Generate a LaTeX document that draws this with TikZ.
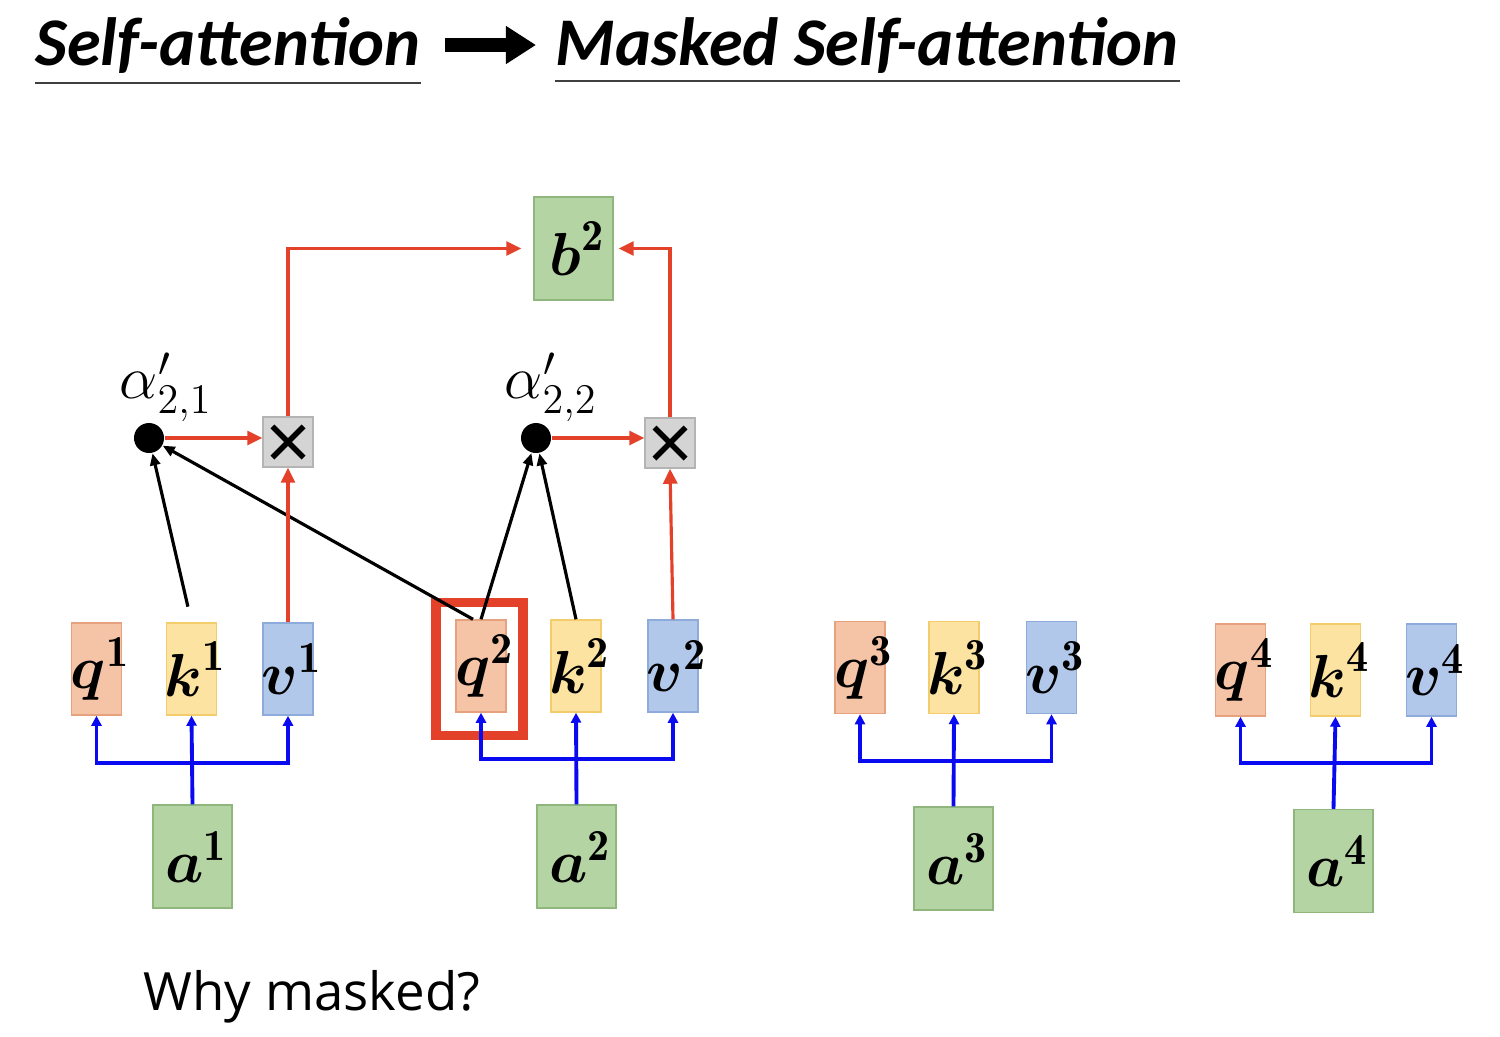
\documentclass[tikz,border=0pt]{standalone}
\usepackage{amsmath}
\usepackage{fontspec}
\setsansfont{Carlito}
\newfontfamily\whyfont{Open Sans}
\usetikzlibrary{arrows.meta}

\definecolor{qfill}{HTML}{F5C3A6}
\definecolor{qline}{HTML}{E6A27F}
\definecolor{kfill}{HTML}{FDE3A1}
\definecolor{kline}{HTML}{F3CD6B}
\definecolor{vfill}{HTML}{B1C8EA}
\definecolor{vline}{HTML}{8EABDB}
\definecolor{gfill}{HTML}{B5D4A3}
\definecolor{gline}{HTML}{8FB67C}
\definecolor{xfill}{HTML}{D4D4D4}
\definecolor{xline}{HTML}{B4B4B4}
\definecolor{redl}{HTML}{E4412A}
\definecolor{bluel}{HTML}{0A0AF0}
\definecolor{uline}{HTML}{404040}

\newcommand{\vecfont}{\fontsize{18}{20}\selectfont}
\newcommand{\titlefont}{\fontsize{19.4}{22}\selectfont\sffamily\bfseries\itshape}
\newcommand{\vlab}[2]{\makebox[0pt]{\hspace{0.08cm}$\boldsymbol{#1}^{\mathbf{#2}}$}}

\begin{document}
\begin{tikzpicture}[x=0.01cm,y=-0.01cm,
  qbox/.style={draw=qline,fill=qfill,minimum width=0.5cm,minimum height=0.92cm,inner sep=0pt,font=\vecfont},
  kbox/.style={qbox,draw=kline,fill=kfill},
  vbox/.style={qbox,draw=vline,fill=vfill},
  gbox/.style={draw=gline,fill=gfill,minimum width=0.79cm,minimum height=1.03cm,inner sep=0pt,font=\vecfont},
  mulbox/.style={draw=xline,fill=xfill,minimum size=0.5cm,inner sep=0pt,
    path picture={\draw[black,line width=1.6pt]
      ([shift={(-0.155cm,-0.155cm)}]path picture bounding box.center) -- ([shift={(0.155cm,0.155cm)}]path picture bounding box.center)
      ([shift={(-0.155cm,0.155cm)}]path picture bounding box.center) -- ([shift={(0.155cm,-0.155cm)}]path picture bounding box.center);}},
  dot/.style={circle,fill=black,minimum size=0.3cm,inner sep=0pt},
  blu/.style={draw=bluel,line width=1.1pt,-{Triangle[length=0.1cm,width=0.1cm]}},
  redarr/.style={draw=redl,line width=0.9pt,-{Triangle[length=0.15cm,width=0.14cm]}},
  blk/.style={draw=black,line width=0.9pt,-{Triangle[length=0.12cm,width=0.1cm]}}]
  \useasboundingbox (0,0) rectangle (1500,1036);

  % title
  \node[anchor=base west,inner sep=0pt,font=\titlefont] (t1) at (35,65) {Self-attention};
  \node[anchor=base west,inner sep=0pt,font=\titlefont] (t2) at (555,65) {Masked Self-attention};
  \draw[uline,line width=0.6pt] (t1.west |- 0,83) -- (t1.east |- 0,83);
  \draw[uline,line width=0.6pt] (t2.west |- 0,81) -- (t2.east |- 0,81);
  \coordinate (ta) at (445,45);
  \coordinate (tb) at (536,45);
  \draw[line width=4pt,-{Triangle[length=0.3cm,width=0.36cm]}] (ta) -- (tb);

  % inputs and q, k, v
  \node[qbox] (q1) at (96.5,669) {\vlab{q}{1}};
  \node[kbox] (k1) at (191.5,669) {\vlab{k}{1}};
  \node[vbox] (v1) at (288,669) {\vlab{v}{1}};
  \node[gbox] (a1) at (192.5,856.5) {\vlab{a}{1}};
  \node[qbox] (q2) at (481,666) {\vlab{q}{2}};
  \node[kbox] (k2) at (576,666) {\vlab{k}{2}};
  \node[vbox] (v2) at (673,666) {\vlab{v}{2}};
  \node[gbox] (a2) at (576.5,856.5) {\vlab{a}{2}};
  \node[qbox] (q3) at (860,667.5) {\vlab{q}{3}};
  \node[kbox] (k3) at (954,667.5) {\vlab{k}{3}};
  \node[vbox] (v3) at (1051.5,667.5) {\vlab{v}{3}};
  \node[gbox] (a3) at (953.5,858.5) {\vlab{a}{3}};
  \node[qbox] (q4) at (1240.5,670) {\vlab{q}{4}};
  \node[kbox] (k4) at (1335.5,670) {\vlab{k}{4}};
  \node[vbox] (v4) at (1431.5,670) {\vlab{v}{4}};
  \node[gbox] (a4) at (1333.5,861) {\vlab{a}{4}};
  \node[draw=redl,line width=2.8pt,minimum width=0.87cm,minimum height=1.33cm] (hl) at (479.5,669) {};

  % blue branches
  \coordinate (j1) at (192.5,763);
  \coordinate (j2) at (576.5,759);
  \coordinate (j3) at (953.5,761);
  \coordinate (j4) at (1333.5,763);
  \draw[blu,{Triangle[length=0.1cm,width=0.1cm]}-{Triangle[length=0.1cm,width=0.1cm]}] (q1.south) -- (q1 |- j1) -- (v1 |- j1) -- (v1.south);
  \draw[blu] (a1.north) -- (k1.south);
  \draw[blu,{Triangle[length=0.1cm,width=0.1cm]}-{Triangle[length=0.1cm,width=0.1cm]}] (q2.south) -- (q2 |- j2) -- (v2 |- j2) -- (v2.south);
  \draw[blu] (a2.north) -- (k2.south);
  \draw[blu,{Triangle[length=0.1cm,width=0.1cm]}-{Triangle[length=0.1cm,width=0.1cm]}] (q3.south) -- (q3 |- j3) -- (v3 |- j3) -- (v3.south);
  \draw[blu] (a3.north) -- (k3.south);
  \draw[blu,{Triangle[length=0.1cm,width=0.1cm]}-{Triangle[length=0.1cm,width=0.1cm]}] (q4.south) -- (q4 |- j4) -- (v4 |- j4) -- (v4.south);
  \draw[blu] (a4.north) -- (k4.south);

  % attention scores
  \node[dot] (d1) at (149,438) {};
  \node[dot] (d2) at (536,438) {};
  \node (al1) at (166,387) {\fontsize{17}{20}\selectfont$\alpha'_{2,1}$};
  \node (al2) at (551,387) {\fontsize{17}{20}\selectfont$\alpha'_{2,2}$};
  \node[mulbox] (x1) at (288,442) {};
  \node[mulbox] (x2) at (670,443) {};
  \node[gbox] (b2) at (573.5,248.5) {\vlab{b}{2}};

  \draw[blk,shorten <=0.16cm] (k1.north) -- (d1);
  \draw[blk] ([xshift=-0.08cm]q2.north) -- (d1);
  \draw[blk] (q2.north) -- (d2);
  \draw[blk] (k2.north) -- (d2);

  \draw[redarr] (d1) -- (d1 -| x1.west);
  \draw[redarr] (d2) -- (d2 -| x2.west);
  \draw[redarr] (v1.north) -- (x1.south);
  \draw[redarr] (v2.north) -- (x2.south);
  \draw[redarr,shorten >=0.12cm] (x1.north) |- (b2.west);
  \draw[redarr,shorten >=0.05cm] (x2.north) |- (b2.east);

  \node[anchor=base west,inner sep=0pt,font=\fontsize{15}{18}\selectfont\whyfont] (why) at (143,1010) {Why masked?};
\end{tikzpicture}
\end{document}
